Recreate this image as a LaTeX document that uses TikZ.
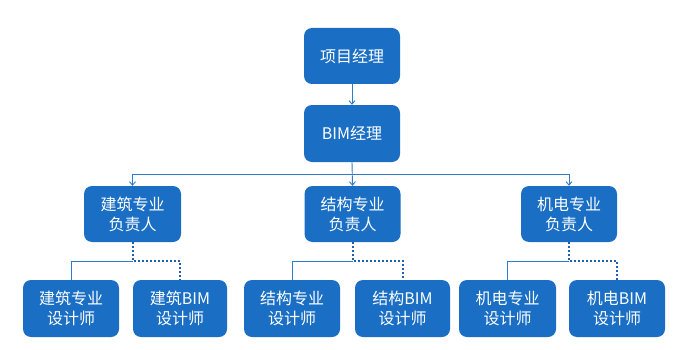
\documentclass[tikz,border=0pt]{standalone}
\usepackage{fontspec}
\setmainfont{Noto Sans CJK SC}
\usetikzlibrary{arrows.meta,calc}
\definecolor{boxblue}{HTML}{1A6FC4}
\definecolor{lineblue}{HTML}{2E7BCB}
\definecolor{dotblue}{HTML}{1F5FAF}
\tikzset{
  orgbox/.style={draw=none, fill=boxblue, rounded corners=8pt, text=white,
    minimum width=96pt, minimum height=56pt, inner sep=0pt, align=center,
    font=\fontsize{16}{20}\selectfont},
  arr/.style={draw=lineblue, line width=0.9pt, -{Straight Barb[length=3.5pt,width=6pt]}},
  solidline/.style={draw=lineblue, line width=0.9pt},
  dotline/.style={draw=dotblue, line width=2pt, dash pattern=on 2pt off 2pt},
}
\begin{document}
\begin{tikzpicture}[x=1pt,y=-1pt]
\useasboundingbox (0,0) rectangle (676,350);
\node[orgbox] (pm) at (352,56) {项目经理};
\node[orgbox, minimum height=57pt] (bim) at (352,133.5) {BIM经理};
\node[orgbox, minimum width=97pt] (a) at (132.5,214) {建筑专业\\负责人};
\node[orgbox] (s) at (352.5,214) {结构专业\\负责人};
\node[orgbox] (m) at (569,214) {机电专业\\负责人};
\node[orgbox, minimum height=57pt] (a1) at (71,308.5) {建筑专业\\设计师};
\node[orgbox, minimum width=94pt, minimum height=57pt] (a2) at (180,308.5) {建筑BIM\\设计师};
\node[orgbox, minimum height=57pt] (s1) at (292,308.5) {结构专业\\设计师};
\node[orgbox, minimum width=95pt, minimum height=57pt] (s2) at (402.5,308.5) {结构BIM\\设计师};
\node[orgbox, minimum width=97pt, minimum height=57pt] (m1) at (507.5,308.5) {机电专业\\设计师};
\node[orgbox, minimum height=57pt] (m2) at (617,308.5) {机电BIM\\设计师};
% top connectors
\draw[arr] (pm.south) -- (bim.north);
\coordinate (bus) at ($(bim.south)+(0,12)$);
\draw[arr] (bim.south) -- (s.north);
\draw[arr] (bus) -| (a.north);
\draw[arr] (bus) -| (m.north);
% group connectors
\foreach \p/\l/\r in {a/a1/a2, s/s1/s2, m/m1/m2}{
  \coordinate (\p j) at ($(\p.south)+(0,19)$);
  \draw[solidline] (\p j) -| (\l.north);
  \draw[dotline] (\p.south) -- (\p j) -| (\r.north);
}
\end{tikzpicture}
\end{document}
